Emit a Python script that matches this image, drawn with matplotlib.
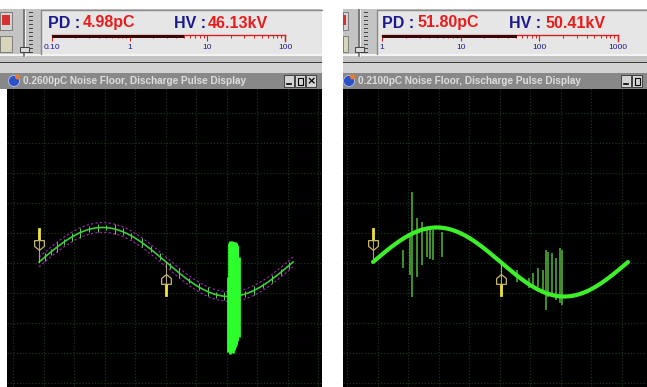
import numpy as np
import matplotlib
matplotlib.use("Agg")
import matplotlib.pyplot as plt
from matplotlib.patches import Rectangle, Circle
from matplotlib.path import Path
from matplotlib.transforms import Affine2D
from matplotlib.ticker import LogLocator, NullFormatter, MultipleLocator

# ---- readouts -------------------------------------------------------------
PANEL_TAGS = ["(a)", "(b)"]
PD_VALUES = [4.98, 51.80]          # pC
HV_VALUES = [46.13, 50.41]         # kV
NOISE_FLOOR = [0.2600, 0.2100]     # pC
SCALE_MIN = [0.1, 1]
SCALE_MAX = [100, 1000]
SCALE_TICKS = [[0.1, 1, 10, 100], [1, 10, 100, 1000]]
SCALE_LABELS = [["0.10", "1", "10", "100"], ["1", "10", "100", "1000"]]

# ---- phase markers (deg) ---------------------------------------------------
MARKER_PHASE = [0, 180]
MARKER_DIR = [1, -1]

# ---- panel (a): small noise on the trace ----------------------------------
NOISE_PHASE_A = [8, 17, 26, 35, 47, 58, 71, 83, 95, 108, 119, 131, 146, 158,
                 171, 186, 199, 212, 226, 239, 251, 262, 292, 304, 317, 330, 343, 354]
NOISE_AMP_A = [0.12, 0.09, 0.14, 0.08, 0.11, 0.15, 0.09, 0.12, 0.08, 0.14, 0.10,
               0.09, 0.13, 0.08, 0.11, 0.09, 0.14, 0.08, 0.10, 0.12, 0.09, 0.11,
               0.10, 0.13, 0.08, 0.11, 0.09, 0.10]

# ---- panel (a): discharge burst near the negative peak --------------------
BURST_PHASE_A = [267.8, 269.5, 270.4, 271.3, 272.2, 273.1, 274.0, 274.9,
                 275.8, 276.7, 277.6, 278.5, 279.4, 280.3, 281.2, 283.4]
BURST_TOP_A = [-0.43, 0.55, 0.58, 0.60, 0.58, 0.57, 0.60, 0.59,
               0.58, 0.56, 0.57, 0.55, 0.53, 0.50, 0.45, 0.14]
BURST_BOTTOM_A = [-2.61, -2.55, -2.62, -2.65, -2.60, -2.52, -2.58, -2.63,
                  -2.55, -2.50, -2.45, -2.40, -2.35, -2.30, -2.25, -2.17]

# ---- panel (b): individual pulses -----------------------------------------
PULSE_PHASE_B = [42.4, 52.2, 55.1, 62.1, 69.2, 76.2, 80.5, 84.7, 97.4,
                 203.3, 220.2, 225.9, 233.0, 240.0, 244.2, 247.1, 252.7,
                 258.4, 264.0, 266.8]
PULSE_TOP_B = [0.35, 0.78, 2.03, 1.28, 1.16, 1.01, 0.95, 0.93, 0.87,
               -0.23, -0.46, -0.32, -0.17, -0.23, 0.35, 0.29, 0.26,
               0.12, 0.41, 0.35]
PULSE_BOTTOM_B = [-0.17, -0.38, -1.01, -0.43, -0.09, 0.14, 0.10, 0.06, 0.14,
                  -0.58, -0.75, -0.75, -0.72, -0.90, -1.39, -1.01, -0.96,
                  -1.10, -1.19, -1.25]

W, H = 647, 387
fig = plt.figure(figsize=(W / 100, H / 100), dpi=100, facecolor="white")

# pixel canvas for the window chrome
cv = fig.add_axes([0, 0, 1, 1])
cv.set_xlim(0, W)
cv.set_ylim(H, 0)
cv.axis("off")


def rect(x0, y0, x1, y1, fc, ec="none", lw=0, z=1):
    cv.add_patch(Rectangle((x0, y0), x1 - x0, y1 - y0, facecolor=fc,
                           edgecolor=ec, linewidth=lw, zorder=z))


def fig_rect(x0, y0, x1, y1):
    return [x0 / W, 1 - y1 / H, (x1 - x0) / W, (y1 - y0) / H]


SANS = "Liberation Sans"
NAVY = "#1a1a8c"
RED = "#e81c1c"

panels = [
    dict(x0=0, x1=322, pdbox=41, slider=22, title_x=23, icon=14,
         pd_x=48, pdv_x=83, hv_x=174, hvv_x=208, scale=(52, 285),
         plot=(7, 322), xlim=(-45.4, 401.0), gx=(-6, 309), tag_x=23,
         btns=[284, 295, 306], trace_lw=1.2, trace_col="#3ccf3c"),
    dict(x0=343, x1=647, pdbox=377, slider=357, title_x=358, icon=349,
         pd_x=382, pdv_x=417, hv_x=509, hvv_x=545, scale=(382, 618),
         plot=(343, 647), xlim=(-42.4, 386.8), gx=(-4, 300), tag_x=358,
         btns=[621, 632], trace_lw=3.0, trace_col="#3ef02a"),
]

for i, p in enumerate(panels):
    x0, x1 = p["x0"], p["x1"]
    # toolbar
    rect(x0, 9, x1, 62, "#c4c4c4")
    rect(x0, 54, x1, 55.5, "#f4f4f4", z=2)
    rect(x0, 61.5, x1, 63, "#3c3c3c", z=2)
    rect(x0, 63, x1, 73, "#d2d2d2")
    # left-hand buttons
    rect(x0, 12, x0 + 12 if i == 0 else x0 + 5, 30, "#d9d2d2", ec="#707070", lw=0.6, z=2)
    rect(x0 + 2 if i == 0 else x0, 15, x0 + 10 if i == 0 else x0 + 3, 25, "#d83030", z=3)
    rect(x0, 36, x0 + 12 if i == 0 else x0 + 5, 52, "#d8d4bc", ec="#707070", lw=0.6, z=2)
    # slider
    sx = p["slider"]
    cv.plot([sx + 2, sx + 2], [10, 56], color="#6a6a6a", lw=1.2, zorder=3)
    cv.plot([sx + 3, sx + 3], [10, 56], color="#f2f2f2", lw=0.8, zorder=3)
    for ty in np.arange(12, 56, 4):
        cv.plot([sx + 7, sx + 10], [ty, ty], color="#404040", lw=0.7, zorder=3)
    rect(sx - 2, 47, sx + 7, 52, "#d8d8d8", ec="#404040", lw=0.7, z=4)
    # readout box
    bx = p["pdbox"]
    rect(bx, 10, x1, 54, "#e6e6e6", z=2)
    cv.plot([bx, bx, x1], [54, 10, 10], color="#8a8a8a", lw=1.0, zorder=3)
    cv.text(p["pd_x"], 23, "PD :", color=NAVY, fontsize=11.5, fontweight="bold",
            family=SANS, va="center", ha="left", zorder=5)
    cv.text(p["pdv_x"], 23, f"{PD_VALUES[i]:.2f}pC", color=RED, fontsize=11.5,
            fontweight="bold", family=SANS, va="center", ha="left", zorder=5)
    cv.text(p["hv_x"], 23, "HV :", color=NAVY, fontsize=11.5, fontweight="bold",
            family=SANS, va="center", ha="left", zorder=5)
    cv.text(p["hvv_x"], 23, f"{HV_VALUES[i]:.2f}kV", color=RED, fontsize=11.5,
            fontweight="bold", family=SANS, va="center", ha="left", zorder=5)

    # log bar-graph scale
    s0, s1 = p["scale"]
    sa = fig.add_axes(fig_rect(s0, 35, s1, 41))
    sa.set_xscale("log")
    sa.set_xlim(SCALE_MIN[i], SCALE_MAX[i])
    sa.set_ylim(0, 1)
    sa.patch.set_alpha(0)
    sa.barh(0.8, PD_VALUES[i] - SCALE_MIN[i], left=SCALE_MIN[i], height=0.45,
            color="#3a0808", zorder=3)
    for side in ["left", "bottom"]:
        sa.spines[side].set_visible(False)
    for side in ["top", "right"]:
        sa.spines[side].set_color("#d42020")
        sa.spines[side].set_linewidth(1.0)
    sa.set_yticks([])
    sa.set_xticks(SCALE_TICKS[i], SCALE_LABELS[i])
    sa.xaxis.set_minor_locator(LogLocator(base=10, subs=np.arange(2, 10)))
    sa.xaxis.set_minor_formatter(NullFormatter())
    sa.tick_params(axis="x", which="both", top=True, bottom=False,
                   direction="in", color="#d42020", labelbottom=True,
                   labeltop=False, labelsize=6, labelcolor=NAVY, pad=2.5)
    sa.tick_params(axis="x", which="major", length=4, width=0.8)
    sa.tick_params(axis="x", which="minor", length=2.5, width=0.7)
    for lab in sa.get_xticklabels():
        lab.set_family(SANS)

    # title bar
    rect(x0, 73, x1, 89, "#888888")
    cv.add_patch(Circle((p["icon"], 81), 5.5, facecolor="#2a52c8",
                        edgecolor="#d0d0ff", lw=0.5, zorder=3))
    cv.add_patch(Circle((p["icon"] + 3.5, 77), 2.5, facecolor="#f07828", zorder=4))
    cv.text(p["title_x"], 81.5,
            f"{NOISE_FLOOR[i]:.4f}pC Noise Floor, Discharge Pulse Display",
            color="#dedede", fontsize=7.2, fontweight="bold", family=SANS,
            va="center", ha="left", zorder=5)
    for j, bxp in enumerate(p["btns"]):
        rect(bxp, 75, bxp + 10, 87, "#d4d4d4", ec="#303030", lw=0.6, z=4)
        if j == 0:
            cv.plot([bxp + 3, bxp + 7], [84, 84], color="black", lw=1.2, zorder=5)
        elif j == 1:
            rect(bxp + 2.5, 77.5, bxp + 7.5, 84.5, "none", ec="black", lw=0.8, z=5)
        else:
            cv.text(bxp + 5, 81.3, "×", color="black", fontsize=8, ha="center",
                    va="center", family="DejaVu Sans", fontweight="bold", zorder=5)

    # ---- discharge display ----
    px0, px1 = p["plot"]
    gax = fig.add_axes(fig_rect(px0, 89, px1, H), facecolor="black")
    gax.set_xlim(*p["gx"])
    gax.set_ylim(274, -24)
    gax.xaxis.set_major_locator(MultipleLocator(30.5))
    gax.yaxis.set_major_locator(MultipleLocator(30))
    gax.grid(True, color="#1b331b", lw=0.9, linestyle=(0, (1, 1.5)))
    gax.tick_params(length=0, labelbottom=False, labelleft=False)
    for sp in gax.spines.values():
        sp.set_visible(False)

    ax = fig.add_axes(fig_rect(px0, 89, px1, H))
    ax.patch.set_alpha(0)
    ax.set_xlim(*p["xlim"])
    ax.set_ylim(-3.62, 5.01)
    ax.axis("off")

    phase = np.linspace(0, 360, 721)
    wave = np.sin(np.deg2rad(phase))
    if i == 0:
        ax.plot(phase, wave + 0.14, color="#a02ab4", lw=0.8, ls=(0, (2, 2)), zorder=2)
        ax.plot(phase, wave - 0.14, color="#a02ab4", lw=0.8, ls=(0, (2, 2)), zorder=2)
        nph = np.array(NOISE_PHASE_A, float)
        nbase = np.sin(np.deg2rad(nph))
        ax.vlines(nph, nbase - np.array(NOISE_AMP_A), nbase + np.array(NOISE_AMP_A),
                  color="#62d062", lw=0.7, zorder=3)
        ax.plot(phase, wave, color=p["trace_col"], lw=p["trace_lw"], zorder=3)
        ax.vlines(BURST_PHASE_A, BURST_BOTTOM_A, BURST_TOP_A, color="#2cff2c",
                  lw=2.0, zorder=4)
    else:
        ax.vlines(PULSE_PHASE_B, PULSE_BOTTOM_B, PULSE_TOP_B, color="#52b838",
                  lw=1.1, zorder=2)
        ax.plot(phase, wave, color=p["trace_col"], lw=p["trace_lw"], zorder=3,
                solid_capstyle="round")

    # phase markers
    body = Path([(-1, 1), (1, 1), (1, -0.2), (0, -1), (-1, -0.2), (-1, 1)],
                [Path.MOVETO] + [Path.LINETO] * 4 + [Path.CLOSEPOLY])
    for ph, d in zip(MARKER_PHASE, MARKER_DIR):
        base = np.sin(np.deg2rad(ph))
        ax.plot([ph, ph], [base, base + d * 0.96], color="#a8a08a", lw=0.8, zorder=5)
        ax.plot([ph, ph], [base + d * 0.66, base + d * 0.96], color="#f2e43a",
                lw=2.0, zorder=6)
        mk = body if d > 0 else body.transformed(Affine2D().scale(1, -1))
        ax.plot([ph], [base + d * 0.5], marker=mk, ms=7, mfc="none",
                mec="#c8b46a", mew=0.9, zorder=6)

    cv.text(p["tag_x"], 355, PANEL_TAGS[i], color="white", fontsize=19,
            family="Liberation Serif", va="center", ha="left", zorder=10)

fig.savefig("out.png", dpi=100, facecolor="white")
